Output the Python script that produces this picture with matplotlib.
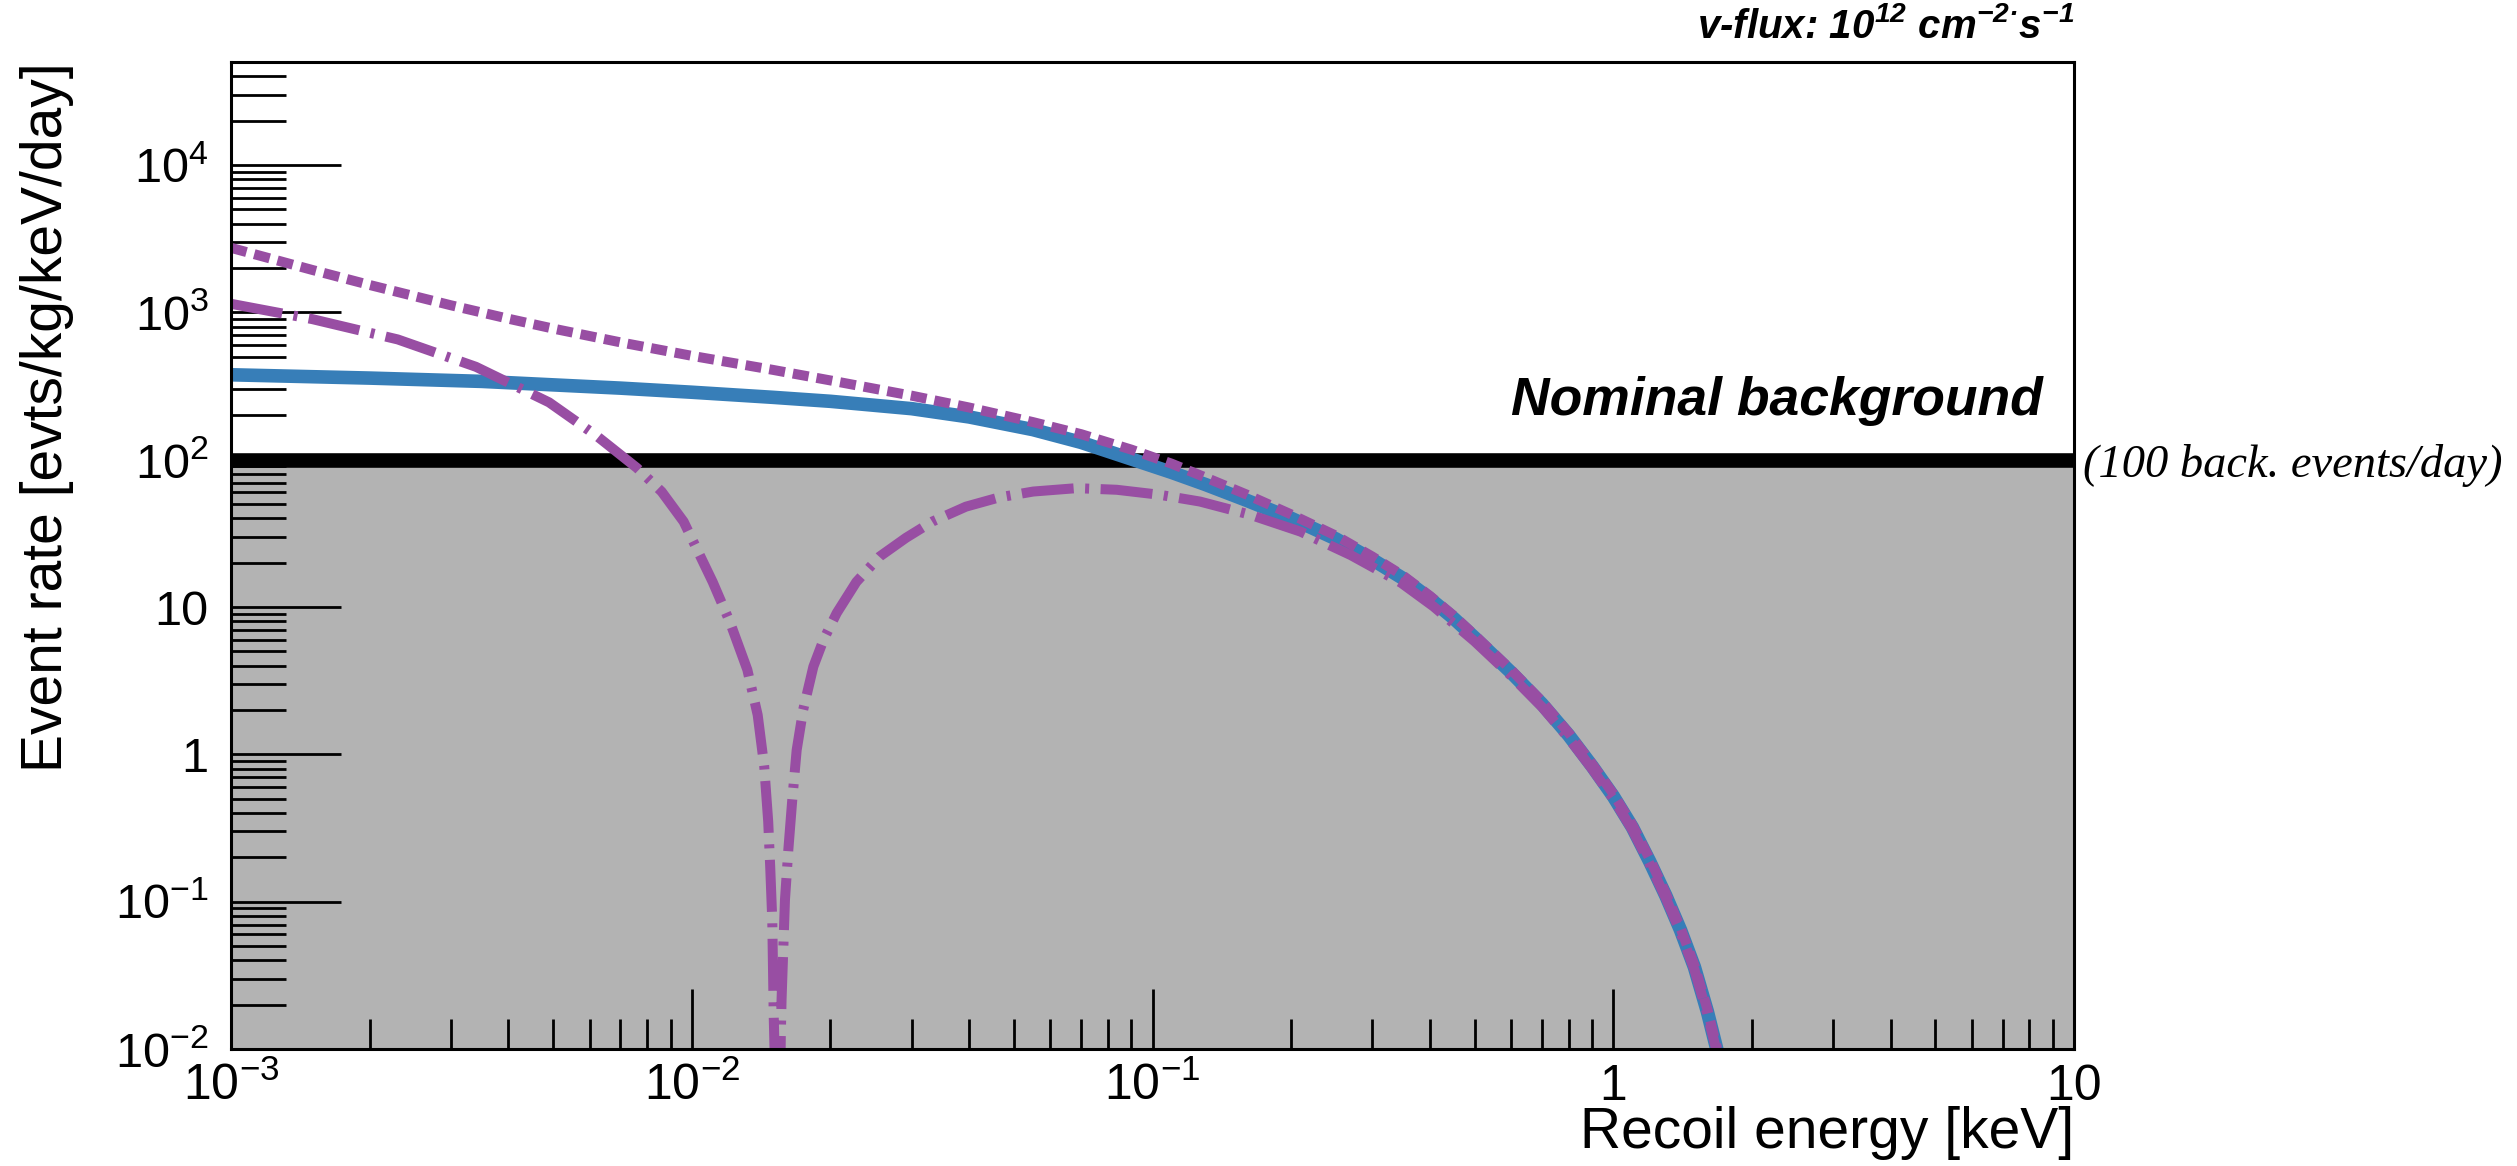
import matplotlib
matplotlib.use("Agg")
import matplotlib.pyplot as plt
from matplotlib.ticker import NullFormatter

# event rate [evts/kg/keV/day] vs recoil energy [keV]
# solid blue curve
solid_e = [0.001, 0.002, 0.0035, 0.005, 0.007, 0.01, 0.015, 0.02, 0.03, 0.04,
           0.055, 0.07, 0.09, 0.11, 0.13, 0.16, 0.2, 0.25, 0.3, 0.35, 0.4,
           0.45, 0.5, 0.6, 0.7, 0.8, 0.9, 1.0, 1.1, 1.2, 1.3, 1.4, 1.5, 1.6, 1.68]
solid_rate = [377, 358, 340, 322, 306, 287, 265, 249, 222, 195,
              160, 131, 101, 82, 68, 53, 40, 29, 21, 15.6, 11.4,
              8.4, 6.2, 3.6, 2.2, 1.35, 0.83, 0.52, 0.32, 0.187, 0.11, 0.064, 0.036, 0.018, 0.0098]

# dotted purple curve
dotted_e = [0.001, 0.0015, 0.002, 0.003, 0.004, 0.005, 0.007, 0.01, 0.015, 0.02,
            0.03, 0.04, 0.055, 0.07, 0.09, 0.11, 0.13, 0.16, 0.2, 0.25, 0.3,
            0.35, 0.4, 0.45, 0.5, 0.6, 0.7, 0.8, 0.9, 1.0, 1.1, 1.2, 1.3, 1.4, 1.5, 1.6, 1.68]
dotted_rate = [2740, 1941, 1533, 1117, 905, 776, 626, 507, 407, 345,
               272, 226, 180, 149, 117, 94, 76, 58, 42.5, 30.5, 22,
               16.3, 11.9, 8.75, 6.45, 3.75, 2.29, 1.4, 0.86, 0.54, 0.333, 0.195, 0.114, 0.066, 0.037, 0.0187, 0.0101]

# dash-dotted purple curve (goes through zero near 15 eV)
dashdot_e = [0.001, 0.0015, 0.0023, 0.0034, 0.0049, 0.0062, 0.0076, 0.0086, 0.0096, 0.0111,
             0.0121, 0.0132, 0.0139, 0.01436, 0.01465, 0.0148, 0.01495, 0.01506, 0.01512,
             0.01536, 0.0156, 0.01566, 0.01593, 0.0162, 0.01652, 0.01689, 0.01745, 0.01836,
             0.01932, 0.02063, 0.02276, 0.02556, 0.02917, 0.03326, 0.03935, 0.0465, 0.0551,
             0.0684, 0.0836, 0.1036, 0.1267, 0.1629, 0.2095, 0.2694, 0.3464, 0.407, 0.5,
             0.6, 0.7, 0.8, 0.9, 1.0, 1.1, 1.2, 1.3, 1.4, 1.5, 1.6, 1.68]
dashdot_rate = [1143, 900, 655, 427, 245, 146, 88, 60.7, 38, 14.8,
                7.9, 3.75, 1.85, 0.83, 0.35, 0.17, 0.075, 0.0166, 0.01,
                0.0001, 0.012, 0.0215, 0.103, 0.225, 0.49, 1.07, 2.01, 3.94,
                6.0, 9.1, 14.8, 22.0, 29.5, 38.0, 48.0, 55.5, 60.8,
                64.1, 62.5, 57.8, 52, 42.3, 32.5, 22.5, 14.6, 10.1, 5.85,
                3.42, 2.1, 1.29, 0.795, 0.5, 0.307, 0.18, 0.106, 0.0615, 0.0346, 0.0173, 0.0094]

BACKGROUND = 100.0
XLIM = (1e-3, 10)
YLIM = (1e-2, 5e4)

x_major = [1e-3, 1e-2, 1e-1, 1, 10]
x_labels = [r"$\mathdefault{10^{-3}}$", r"$\mathdefault{10^{-2}}$", r"$\mathdefault{10^{-1}}$", "1", "10"]
y_major = [1e-2, 1e-1, 1, 10, 1e2, 1e3, 1e4]
y_labels = [r"$\mathdefault{10^{-2}}$", r"$\mathdefault{10^{-1}}$", "1", "10",
            r"$\mathdefault{10^{2}}$", r"$\mathdefault{10^{3}}$", r"$\mathdefault{10^{4}}$"]

BLUE = "#377eb8"
PURPLE = "#984ea3"

plt.rcParams["font.family"] = ["Liberation Sans", "DejaVu Sans"]

fig = plt.figure(figsize=(25.17, 11.66), dpi=100)
ax = fig.add_axes([0.0918, 0.1003, 0.7322, 0.8465])
ax.set_xscale("log")
ax.set_yscale("log")
ax.set_xlim(*XLIM)
ax.set_ylim(*YLIM)

# region under the nominal background
ax.fill_between(XLIM, YLIM[0], BACKGROUND, color="#b3b3b3", lw=0, zorder=0.5)
ax.axhline(BACKGROUND, color="black", lw=10.5, zorder=1.5)

ax.plot(solid_e, solid_rate, color=BLUE, lw=9.8, solid_capstyle="butt", zorder=2)
ax.plot(dotted_e, dotted_rate, color=PURPLE, lw=7.2, dashes=(1.6, 0.8),
        dash_capstyle="butt", zorder=2.2)
ax.plot(dashdot_e, dashdot_rate, color=PURPLE, lw=7.2, dashes=(5.2, 1.15, 0.4, 1.15),
        dash_capstyle="butt", zorder=2.3)

# ticks, ROOT style: inside, only left and bottom
x_minor = [k * 10.0**n for n in range(-3, 1) for k in range(2, 10)]
y_minor = [k * 10.0**n for n in range(-2, 5) for k in range(2, 10) if k * 10.0**n < YLIM[1]]
ax.set_xticks(x_major, x_labels)
ax.set_xticks(x_minor, minor=True)
ax.set_yticks(y_major, y_labels)
ax.set_yticks(y_minor, minor=True)
ax.xaxis.set_minor_formatter(NullFormatter())
ax.yaxis.set_minor_formatter(NullFormatter())

ax.tick_params(which="both", direction="in", top=False, right=False, width=2, color="black")
ax.tick_params(axis="x", which="major", length=43, pad=37, labelsize=36)
ax.tick_params(axis="x", which="minor", length=21.6)
ax.tick_params(axis="y", which="major", length=79, pad=16, labelsize=35)
ax.tick_params(axis="y", which="minor", length=39.6)
for lab in ax.get_xticklabels():
    lab.set_verticalalignment("baseline")

for s in ax.spines.values():
    s.set_linewidth(2.2)

fig.text(0.824, 0.0154, "Recoil energy [keV]", ha="right", va="baseline", fontsize=41)
fig.text(0.0187, 0.947, "Event rate [evts/kg/keV/day]", rotation=90,
         ha="center", va="top", fontsize=41)

fig.text(0.8117, 0.6441, "Nominal background", ha="right", va="baseline",
         fontsize=38.5, weight="bold", style="italic")
fig.text(0.8276, 0.5905, "(100 back. events/day)", ha="left", va="baseline",
         fontsize=33.5, style="italic", family="Liberation Serif")
fig.text(0.824, 0.9674,
         "v-flux: $\\mathdefault{10^{12}}$ cm$^{\\mathdefault{-2\u00b7}}$s$^{\\mathdefault{-1}}$",
         ha="right", va="baseline", fontsize=29, weight="bold", style="italic")

fig.savefig("out.png", dpi=100, facecolor="white")
